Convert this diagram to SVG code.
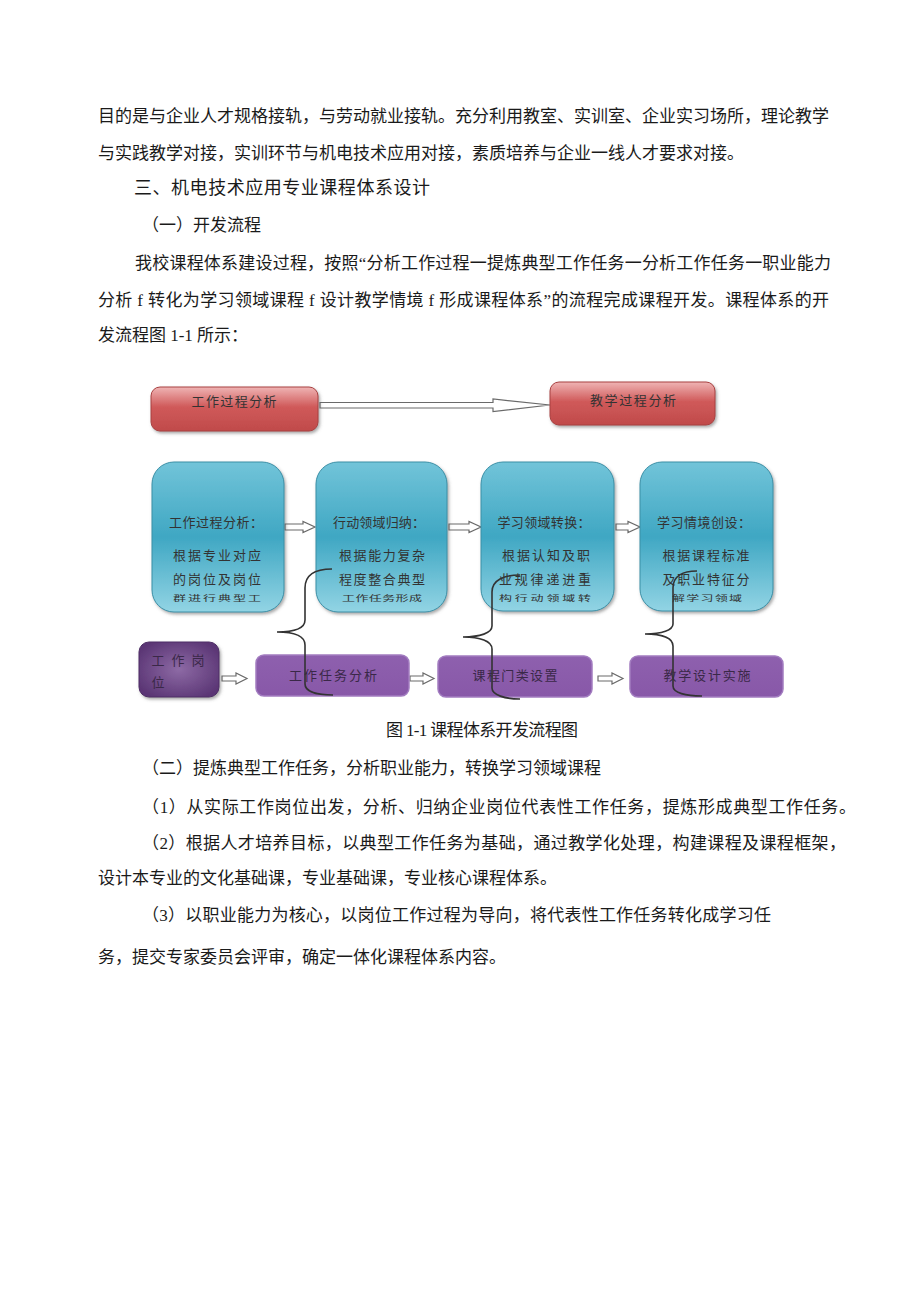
<svg xmlns="http://www.w3.org/2000/svg" width="920" height="1301" viewBox="0 0 920 1301">
<style>
.p{font-family:"Liberation Serif","Noto Sans CJK SC",serif;font-size:17px;fill:#1a1a1a}
.h{font-size:18px}
.bt{font-family:"Noto Sans CJK SC","Liberation Sans",sans-serif;font-size:13px;fill:#333;text-anchor:middle}
.pt{font-family:"Noto Sans CJK SC","Liberation Sans",sans-serif;font-size:13px;fill:#3a2848;text-anchor:middle}
.red{fill:url(#gRed);stroke:#a84040;stroke-width:1}
.blue{fill:url(#gBlue);stroke:#3b8fa6;stroke-width:1}
.pur{fill:url(#gPur);stroke:#a27cc0;stroke-width:1.5}
.arr{fill:#fff;stroke:#6a6a6a;stroke-width:1.2}
.brace{fill:none;stroke:#333;stroke-width:1.6}
</style>
<defs>
<linearGradient id="gRed" x1="0" y1="0" x2="0" y2="1">
<stop offset="0" stop-color="#efb4b4"/><stop offset="0.45" stop-color="#d05a5a"/><stop offset="1" stop-color="#c04a4a"/>
</linearGradient>
<linearGradient id="gBlue" x1="0" y1="0" x2="0" y2="1">
<stop offset="0" stop-color="#72c4d9"/><stop offset="0.5" stop-color="#3fa7c3"/><stop offset="1" stop-color="#92d4e4"/>
</linearGradient>
<linearGradient id="gPur" x1="0" y1="0" x2="0" y2="1">
<stop offset="0" stop-color="#8e60ae"/><stop offset="1" stop-color="#8858a8"/>
</linearGradient>
<radialGradient id="gDark" cx="0.5" cy="0.5" r="0.6">
<stop offset="0" stop-color="#8d6aa5"/><stop offset="1" stop-color="#5a3574"/>
</radialGradient>
<filter id="sh" x="-10%" y="-10%" width="125%" height="130%">
<feDropShadow dx="1.5" dy="2" stdDeviation="1.5" flood-color="#555" flood-opacity="0.5"/>
</filter>
</defs>

<g id="text-top">
<text class="p" x="98" y="122" textLength="731" lengthAdjust="spacing">目的是与企业人才规格接轨，与劳动就业接轨。充分利用教室、实训室、企业实习场所，理论教学</text>
<text class="p" x="98" y="159" textLength="646" lengthAdjust="spacing">与实践教学对接，实训环节与机电技术应用对接，素质培养与企业一线人才要求对接。</text>
<text class="p h" x="134" y="194" textLength="296" lengthAdjust="spacing">三、机电技术应用专业课程体系设计</text>
<text class="p" x="142" y="231" textLength="119" lengthAdjust="spacing">（一）开发流程</text>
<text class="p" x="135" y="269" textLength="696" lengthAdjust="spacing">我校课程体系建设过程，按照“分析工作过程一提炼典型工作任务一分析工作任务一职业能力</text>
<text class="p" x="98" y="306" textLength="731" lengthAdjust="spacing">分析 f 转化为学习领域课程 f 设计教学情境 f 形成课程体系”的流程完成课程开发。课程体系的开</text>
<text class="p" x="98" y="341" textLength="150" lengthAdjust="spacing">发流程图 1-1 所示：</text>
</g>

<g id="connectors">
<path class="arr" d="M320,402.5 H493 V399 L550,405 L493,411.5 V408 H320 Z"/>
<path class="arr" d="M285,524 H303 V521.5 L315,527 L303,532.5 V530 H285 Z"/>
<path class="arr" d="M449,524 H469 V521.5 L481,527 L469,532.5 V530 H449 Z"/>
<path class="arr" d="M616,524 H628 V521.5 L640,527 L628,532.5 V530 H616 Z"/>
<path class="arr" d="M222,676 H236 V673 L247,678.5 L236,684 V681 H222 Z"/>
<path class="arr" d="M410,676 H423 V673 L434,678.5 L423,684 V681 H410 Z"/>
<path class="arr" d="M598,676 H612 V673 L623,678.5 L612,684 V681 H598 Z"/>
</g>

<g id="n-work-process">
<rect class="red" x="151" y="387" width="167" height="44" rx="9" filter="url(#sh)"/>
<text class="bt" x="234" y="406" textLength="85" lengthAdjust="spacing">工作过程分析</text>
</g>
<g id="n-teach-process">
<rect class="red" x="550" y="382" width="165" height="43" rx="9" filter="url(#sh)"/>
<text class="bt" x="633" y="405" textLength="86" lengthAdjust="spacing">教学过程分析</text>
</g>

<g id="n-b1">
<rect class="blue" x="152" y="462" width="132" height="150" rx="22" filter="url(#sh)"/>
<text class="bt" x="216" y="527" textLength="94" lengthAdjust="spacing">工作过程分析：</text>
<text class="bt" x="217" y="560" textLength="88" lengthAdjust="spacing">根据专业对应</text>
<text class="bt" x="217" y="584" textLength="88" lengthAdjust="spacing">的岗位及岗位</text>
<text class="bt" transform="translate(217,601) scale(1,0.6)" textLength="88" lengthAdjust="spacing">群进行典型工</text>
</g>
<g id="n-b2">
<rect class="blue" x="316" y="462" width="131" height="150" rx="22" filter="url(#sh)"/>
<text class="bt" x="379" y="527" textLength="92" lengthAdjust="spacing">行动领域归纳：</text>
<text class="bt" x="382" y="560" textLength="86" lengthAdjust="spacing">根据能力复杂</text>
<text class="bt" x="382" y="584" textLength="86" lengthAdjust="spacing">程度整合典型</text>
<text class="bt" transform="translate(382,601) scale(1,0.6)" textLength="80" lengthAdjust="spacing">工作任务形成</text>
</g>
<g id="n-b3">
<rect class="blue" x="481" y="462" width="133" height="149" rx="22" filter="url(#sh)"/>
<text class="bt" x="544" y="527" textLength="93" lengthAdjust="spacing">学习领域转换：</text>
<text class="bt" x="546" y="560" textLength="88" lengthAdjust="spacing">根据认知及职</text>
<text class="bt" x="545" y="584" textLength="92" lengthAdjust="spacing">业规律递进重</text>
<text class="bt" transform="translate(545,601) scale(1,0.6)" textLength="92" lengthAdjust="spacing">构行动领域转</text>
</g>
<g id="n-b4">
<rect class="blue" x="640" y="462" width="133" height="149" rx="22" filter="url(#sh)"/>
<text class="bt" x="704" y="527" textLength="94" lengthAdjust="spacing">学习情境创设：</text>
<text class="bt" x="706" y="560" textLength="87" lengthAdjust="spacing">根据课程标准</text>
<text class="bt" x="706" y="584" textLength="87" lengthAdjust="spacing">及职业特征分</text>
<text class="bt" transform="translate(707,601) scale(1,0.6)" textLength="70" lengthAdjust="spacing">解学习领域</text>
</g>

<g id="n-post">
<rect x="139" y="642" width="80" height="55" rx="10" fill="url(#gDark)" stroke="#4e2d66" stroke-width="1" filter="url(#sh)"/>
<text class="pt" x="158" y="665" fill="#2a1838">工</text>
<text class="pt" x="178" y="665">作</text>
<text class="pt" x="198" y="665">岗</text>
<text class="pt" x="158" y="687">位</text>
</g>
<g id="n-task">
<rect class="pur" x="256" y="655" width="153" height="41" rx="8"/>
<text class="pt" x="333" y="680" textLength="88" lengthAdjust="spacing">工作任务分析</text>
</g>
<g id="n-course">
<rect class="pur" x="438" y="656" width="154" height="41" rx="8"/>
<text class="pt" x="515" y="680" textLength="85" lengthAdjust="spacing">课程门类设置</text>
</g>
<g id="n-design">
<rect class="pur" x="630" y="656" width="153" height="41" rx="8"/>
<text class="pt" x="707" y="680" textLength="87" lengthAdjust="spacing">教学设计实施</text>
</g>

<g id="braces">
<path class="brace" d="M332,569 C316,569 305,574 305,588 L305,620 C305,628 295,632 277,632 C295,632 305,636 305,645 L305,684 C305,692 318,695 333,695"/>
<path class="brace" d="M520,575 C504,575 492,580 492,592 L492,626 C492,633 480,637 463,637 C480,637 492,641 492,649 L492,688 C492,695 505,699 520,699"/>
<path class="brace" d="M697,571 C683,571 673,576 673,588 L673,624 C673,630 662,634 645,634 C662,634 673,638 673,646 L673,686 C673,693 686,696 702,696"/>
</g>

<g id="text-bottom">
<text class="p" x="386" y="736" textLength="192" lengthAdjust="spacing">图 1-1 课程体系开发流程图</text>
<text class="p" x="142" y="774" textLength="459" lengthAdjust="spacing">（二）提炼典型工作任务，分析职业能力，转换学习领域课程</text>
<text class="p" x="142" y="813" textLength="714" lengthAdjust="spacing">（1）从实际工作岗位出发，分析、归纳企业岗位代表性工作任务，提炼形成典型工作任务。</text>
<text class="p" x="142" y="849" textLength="704" lengthAdjust="spacing">（2）根据人才培养目标，以典型工作任务为基础，通过教学化处理，构建课程及课程框架，</text>
<text class="p" x="98" y="884" textLength="459" lengthAdjust="spacing">设计本专业的文化基础课，专业基础课，专业核心课程体系。</text>
<text class="p" x="142" y="921" textLength="629" lengthAdjust="spacing">（3）以职业能力为核心，以岗位工作过程为导向，将代表性工作任务转化成学习任</text>
<text class="p" x="98" y="963" textLength="408" lengthAdjust="spacing">务，提交专家委员会评审，确定一体化课程体系内容。</text>
</g>
</svg>
